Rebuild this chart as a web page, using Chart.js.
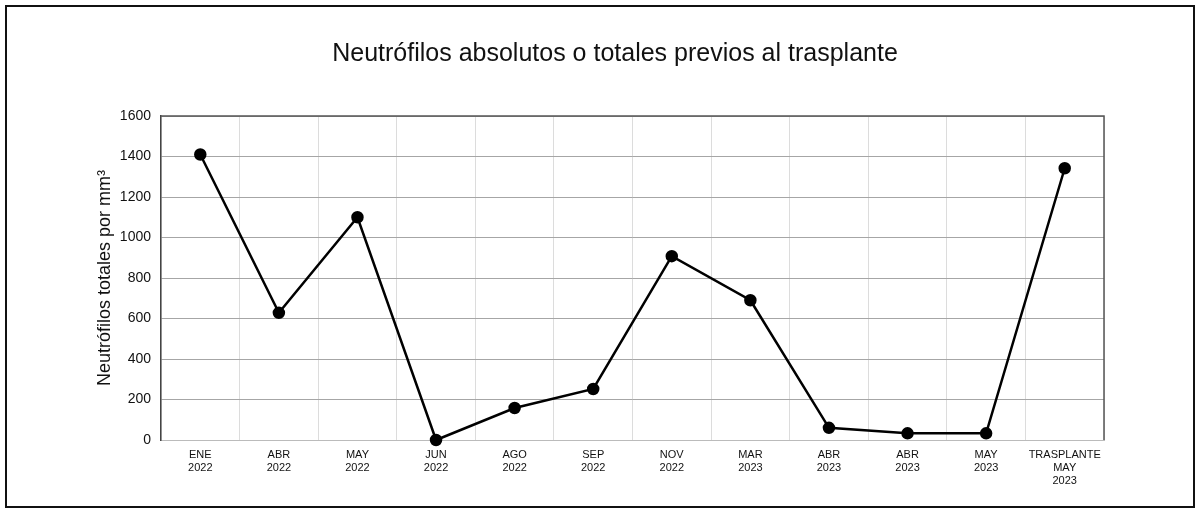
<!DOCTYPE html>
<html lang="es">
<head>
    <meta charset="UTF-8">
    <script src="https://cdn.jsdelivr.net/npm/chart.js"></script>
    <title>Neutrófilos</title>
    <style>
        body { margin: 0; background: #fff; }
        .marco {
            position: absolute; left: 5px; top: 5px;
            width: 1190px; height: 503px;
            border: 2px solid #111; box-sizing: border-box;
        }
        .titulo {
            position: absolute; left: 0; top: 37px; width: 1230px;
            text-align: center; line-height: 30px;
            font-family: 'Liberation Sans', Arial, sans-serif;
            font-size: 25px; color: #111;
        }
    </style>
</head>
<body>
    <div class="marco">
        <canvas id="grafico" width="1186" height="499"></canvas>
    </div>
    <div class="titulo">Neutrófilos absolutos o totales previos al trasplante</div>

<script>
    // datos
    var meses = [
        ['ENE', '2022'], ['ABR', '2022'], ['MAY', '2022'], ['JUN', '2022'],
        ['AGO', '2022'], ['SEP', '2022'], ['NOV', '2022'], ['MAR', '2023'],
        ['ABR', '2023'], ['ABR', '2023'], ['MAY', '2023'], ['TRASPLANTE', 'MAY', '2023']
    ];
    var neutrofilos = [1410, 628, 1100, 0, 158, 252, 908, 690, 60, 33, 33, 1342];
    var ticksY = [0, 200, 400, 600, 800, 1000, 1200, 1400, 1600];

    var fuente = "'Liberation Sans', Arial, sans-serif";

    // borde superior y derecho del area de trazado
    var bordeArea = {
        id: 'bordeArea',
        afterDraw: function (chart) {
            var a = chart.chartArea, ctx = chart.ctx;
            ctx.save();
            ctx.strokeStyle = '#555';
            ctx.lineWidth = 1.5;
            ctx.beginPath();
            ctx.moveTo(a.left, a.top);
            ctx.lineTo(a.right, a.top);
            ctx.lineTo(a.right, a.bottom);
            ctx.stroke();
            ctx.restore();
        }
    };

    var ctx = document.getElementById('grafico').getContext('2d');
    new Chart(ctx, {
        type: 'line',
        data: {
            labels: meses,
            datasets: [{
                data: neutrofilos,
                borderColor: '#000',
                backgroundColor: '#000',
                borderWidth: 2.5,
                pointRadius: 5,
                pointBackgroundColor: '#000',
                tension: 0,
                clip: false
            }]
        },
        options: {
            responsive: false,
            animation: false,
            layout: { padding: { left: 83, right: 89, top: 109, bottom: 0 } },
            plugins: {
                legend: { display: false },
                tooltip: { enabled: false }
            },
            scales: {
                x: {
                    offset: true,
                    grid: { offset: true, color: '#dcdcdc', lineWidth: 1, drawTicks: false },
                    border: { color: '#bbb' },
                    ticks: {
                        color: '#111', padding: 8, maxRotation: 0, autoSkip: false,
                        font: { family: fuente, size: 11 }
                    },
                    afterFit: function (s) { s.height = 66; }
                },
                y: {
                    min: 0, max: 1600,
                    afterBuildTicks: function (s) { s.ticks = ticksY.map(v => ({ value: v })); },
                    grid: { color: '#a6a6a6', lineWidth: 1, drawTicks: false },
                    border: { color: '#444', width: 1.5 },
                    ticks: {
                        color: '#111', padding: 10,
                        font: { family: fuente, size: 14 },
                        callback: function (v) { return String(v); }
                    },
                    title: {
                        display: true,
                        text: 'Neutrófilos totales por mm³',
                        color: '#111',
                        font: { family: fuente, size: 18 },
                        padding: { top: 4, bottom: 0 }
                    },
                    afterFit: function (s) { s.width = 71; }
                }
            }
        },
        plugins: [bordeArea]
    });
</script>
</body>
</html>
